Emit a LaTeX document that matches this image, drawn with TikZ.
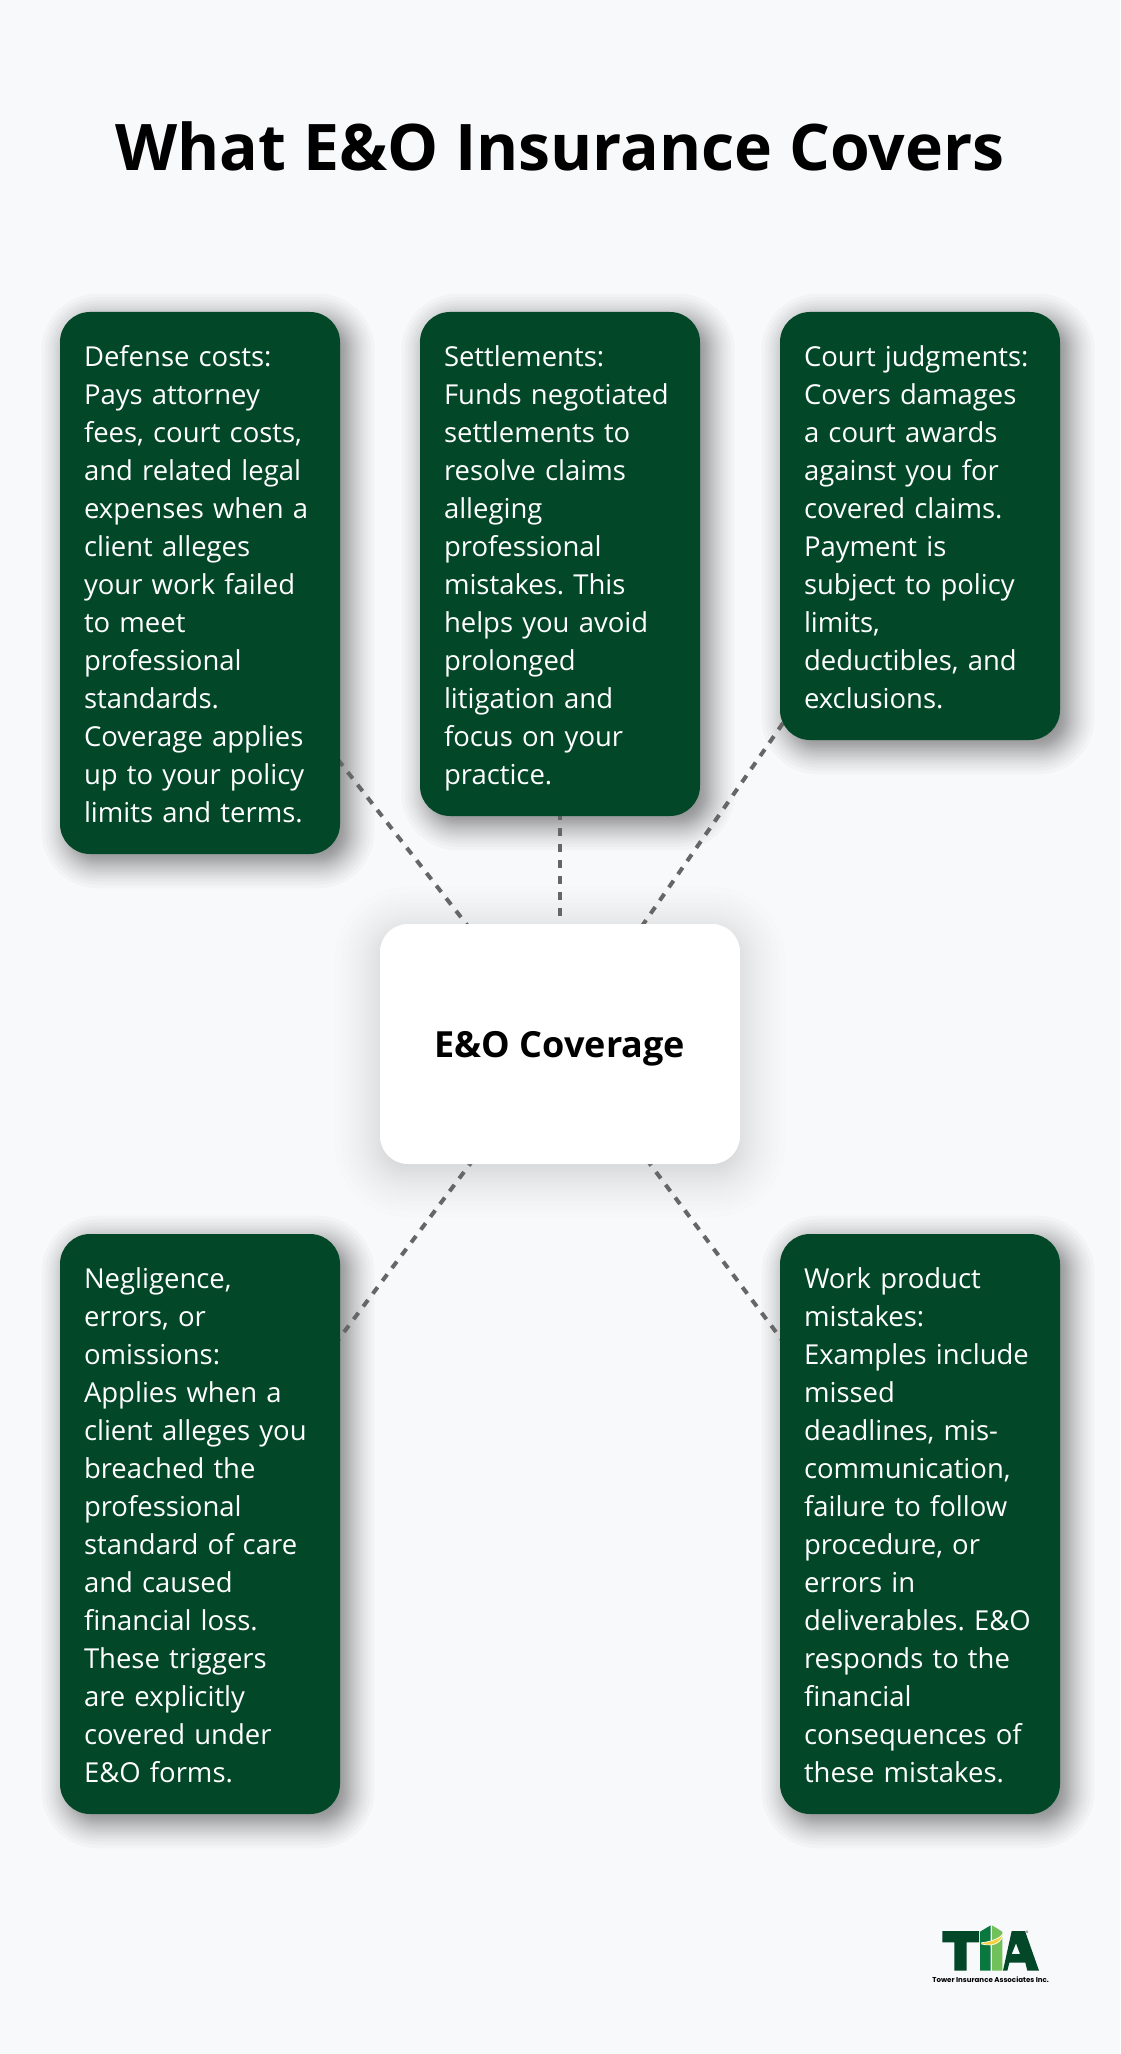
\documentclass[tikz,border=0pt]{standalone}
\usepackage{fontspec}
\setmainfont{Open Sans}
\newfontfamily\logofont{Poppins}
\usetikzlibrary{calc}
\pgfdeclarelayer{shadowlayer}
\pgfdeclarelayer{linklayer}
\pgfsetlayers{shadowlayer,linklayer,main}
\definecolor{pagebg}{RGB}{248,249,251}
\definecolor{boxgreen}{RGB}{3,71,41}
\definecolor{linkgray}{RGB}{102,102,102}
\definecolor{towerdark}{RGB}{10,120,62}
\definecolor{towerlight}{RGB}{114,192,90}
\definecolor{swoosh}{RGB}{247,209,60}
\tikzset{
  greenbox/.style={fill=boxgreen,text=white,rounded corners=22.5pt,minimum width=210pt,
    inner sep=0pt,text width=174pt,align=left,font=\frenchspacing\fontsize{20.6}{28.5}\selectfont,
    execute at begin node={\rule{0pt}{26pt}},execute at end node={\rule[-8.55pt]{0pt}{0pt}}},
  hubbox/.style={fill=white,rounded corners=21pt,minimum width=270pt,minimum height=180pt,
    font=\bfseries\fontsize{27}{32}\selectfont,execute at begin node={\rule[-9.6pt]{0pt}{39.5pt}}},
  linkline/.style={draw=linkgray,line width=3pt,dash pattern=on 6pt off 6pt},
}
% node, offset x, offset y, reach, corner radius, opacity of one step
\newcommand{\softshadow}[6]{%
  \begin{pgfonlayer}{shadowlayer}
    \foreach \i in {1,...,25} {
      \pgfmathsetmacro{\u}{\i/13-1}
      \pgfmathsetmacro{\e}{#4*(0.6*\u+0.4*\u*\u*\u)}
      \pgfmathsetmacro{\r}{max(#5+\e,1)*0.75}
      \fill[black,fill opacity=#6,rounded corners=\r pt]
        ($(#1.north west)+(#2-\e,#3-\e)$) rectangle ($(#1.south east)+(#2+\e,#3+\e)$);
    }
  \end{pgfonlayer}}
\begin{document}
\begin{tikzpicture}[x=0.75pt,y=0.75pt,yscale=-1,xscale=1]
  \begin{pgfonlayer}{shadowlayer}
    \fill[pagebg] (0,0) rectangle (1120,2054);
  \end{pgfonlayer}
  \useasboundingbox (0,0) rectangle (1120,2054);

  % Title
  \node (title) at (560,146) {\bfseries\fontsize{48.2}{56}\selectfont What E\&O Insurance Covers};

  % Top row
  \node[greenbox,minimum height=406.5pt] (defense) at (200,583) {Defense costs:\\Pays attorney\\fees, court costs,\\and related legal\\expenses when a\\client alleges\\your work failed\\to meet\\professional\\standards.\\Coverage applies\\up to your policy\\limits and terms.};
  \node[greenbox,minimum height=378pt] (settle) at (560,564) {Settlements:\\Funds negotiated\\settlements to\\resolve claims\\alleging\\professional\\mistakes. This\\helps you avoid\\prolonged\\litigation and\\focus on your\\practice.};
  \node[greenbox,minimum height=321pt] (judgment) at (920,526) {Court judgments:\\Covers damages\\a court awards\\against you for\\covered claims.\\Payment is\\subject to policy\\limits,\\deductibles, and\\exclusions.};

  % Centre
  \node[hubbox] (hub) at (560,1044) {E\&O Coverage};

  % Bottom row
  \node[greenbox,minimum height=435pt] (negligence) at (200,1524) {Negligence,\\errors, or\\omissions:\\Applies when a\\client alleges you\\breached the\\professional\\standard of care\\and caused\\financial loss.\\These triggers\\are explicitly\\covered under\\E\&O forms.};
  \node[greenbox,minimum height=435pt] (mistakes) at (920,1524) {Work product\\mistakes:\\Examples include\\missed\\deadlines, mis-\\communication,\\failure to follow\\procedure, or\\errors in\\deliverables. E\&O\\responds to the\\financial\\consequences of\\these mistakes.};

  % Shadows
  \softshadow{defense}{8}{8}{30}{30}{0.0216}
  \softshadow{settle}{8}{8}{30}{30}{0.0216}
  \softshadow{judgment}{8}{8}{30}{30}{0.0216}
  \softshadow{negligence}{8}{8}{30}{30}{0.0216}
  \softshadow{mistakes}{8}{8}{30}{30}{0.0216}
  \softshadow{hub}{0}{8}{52}{28}{0.009}

  % Links
  \begin{pgfonlayer}{linklayer}
    \draw[linkline,dash phase=6pt] (settle.center) -- (hub.center);
    \draw[linkline] (defense.center) -- (hub.center);
    \draw[linkline] (judgment.center) -- (hub.center);
    \draw[linkline] (negligence.center) -- (hub.center);
    \draw[linkline] (mistakes.center) -- (hub.center);
  \end{pgfonlayer}

  % Logo
  \begin{scope}[shift={(900,1890)},x=0.25pt,y=0.25pt]
    \fill[boxgreen] (127,123) -- (237,123) -- (237,157) -- (200,157) -- (200,242) -- (163,242) -- (163,157) -- (127,157) -- cycle;
    \fill[towerdark] (240,125) -- (272,106) -- (272,242) -- (240,242) -- cycle;
    \fill[towerlight] (276,106) -- (307,125) -- (307,242) -- (276,242) -- cycle;
    \fill[swoosh,draw=white,line width=0.5pt] (245,158) .. controls (275,155) and (300,145) .. (311,130) .. controls (305,155) and (285,172) .. (245,162) -- cycle;
    \fill[boxgreen,even odd rule] (335,123) -- (375,123) -- (417,242) -- (382,242) -- (376,218) -- (328,218) -- (322,242) -- (309,242) -- cycle
      (348,160) -- (360,192) -- (335,192) -- cycle;
    \node[font=\fontsize{2.5}{3}\selectfont,inner sep=0pt] (regmark) at (381,127) {®};
    \node[font=\logofont\bfseries\fontsize{5.3}{7}\selectfont,inner sep=0pt] (logotext) at (272,270) {Tower Insurance Associates Inc.};
  \end{scope}
\end{tikzpicture}
\end{document}
